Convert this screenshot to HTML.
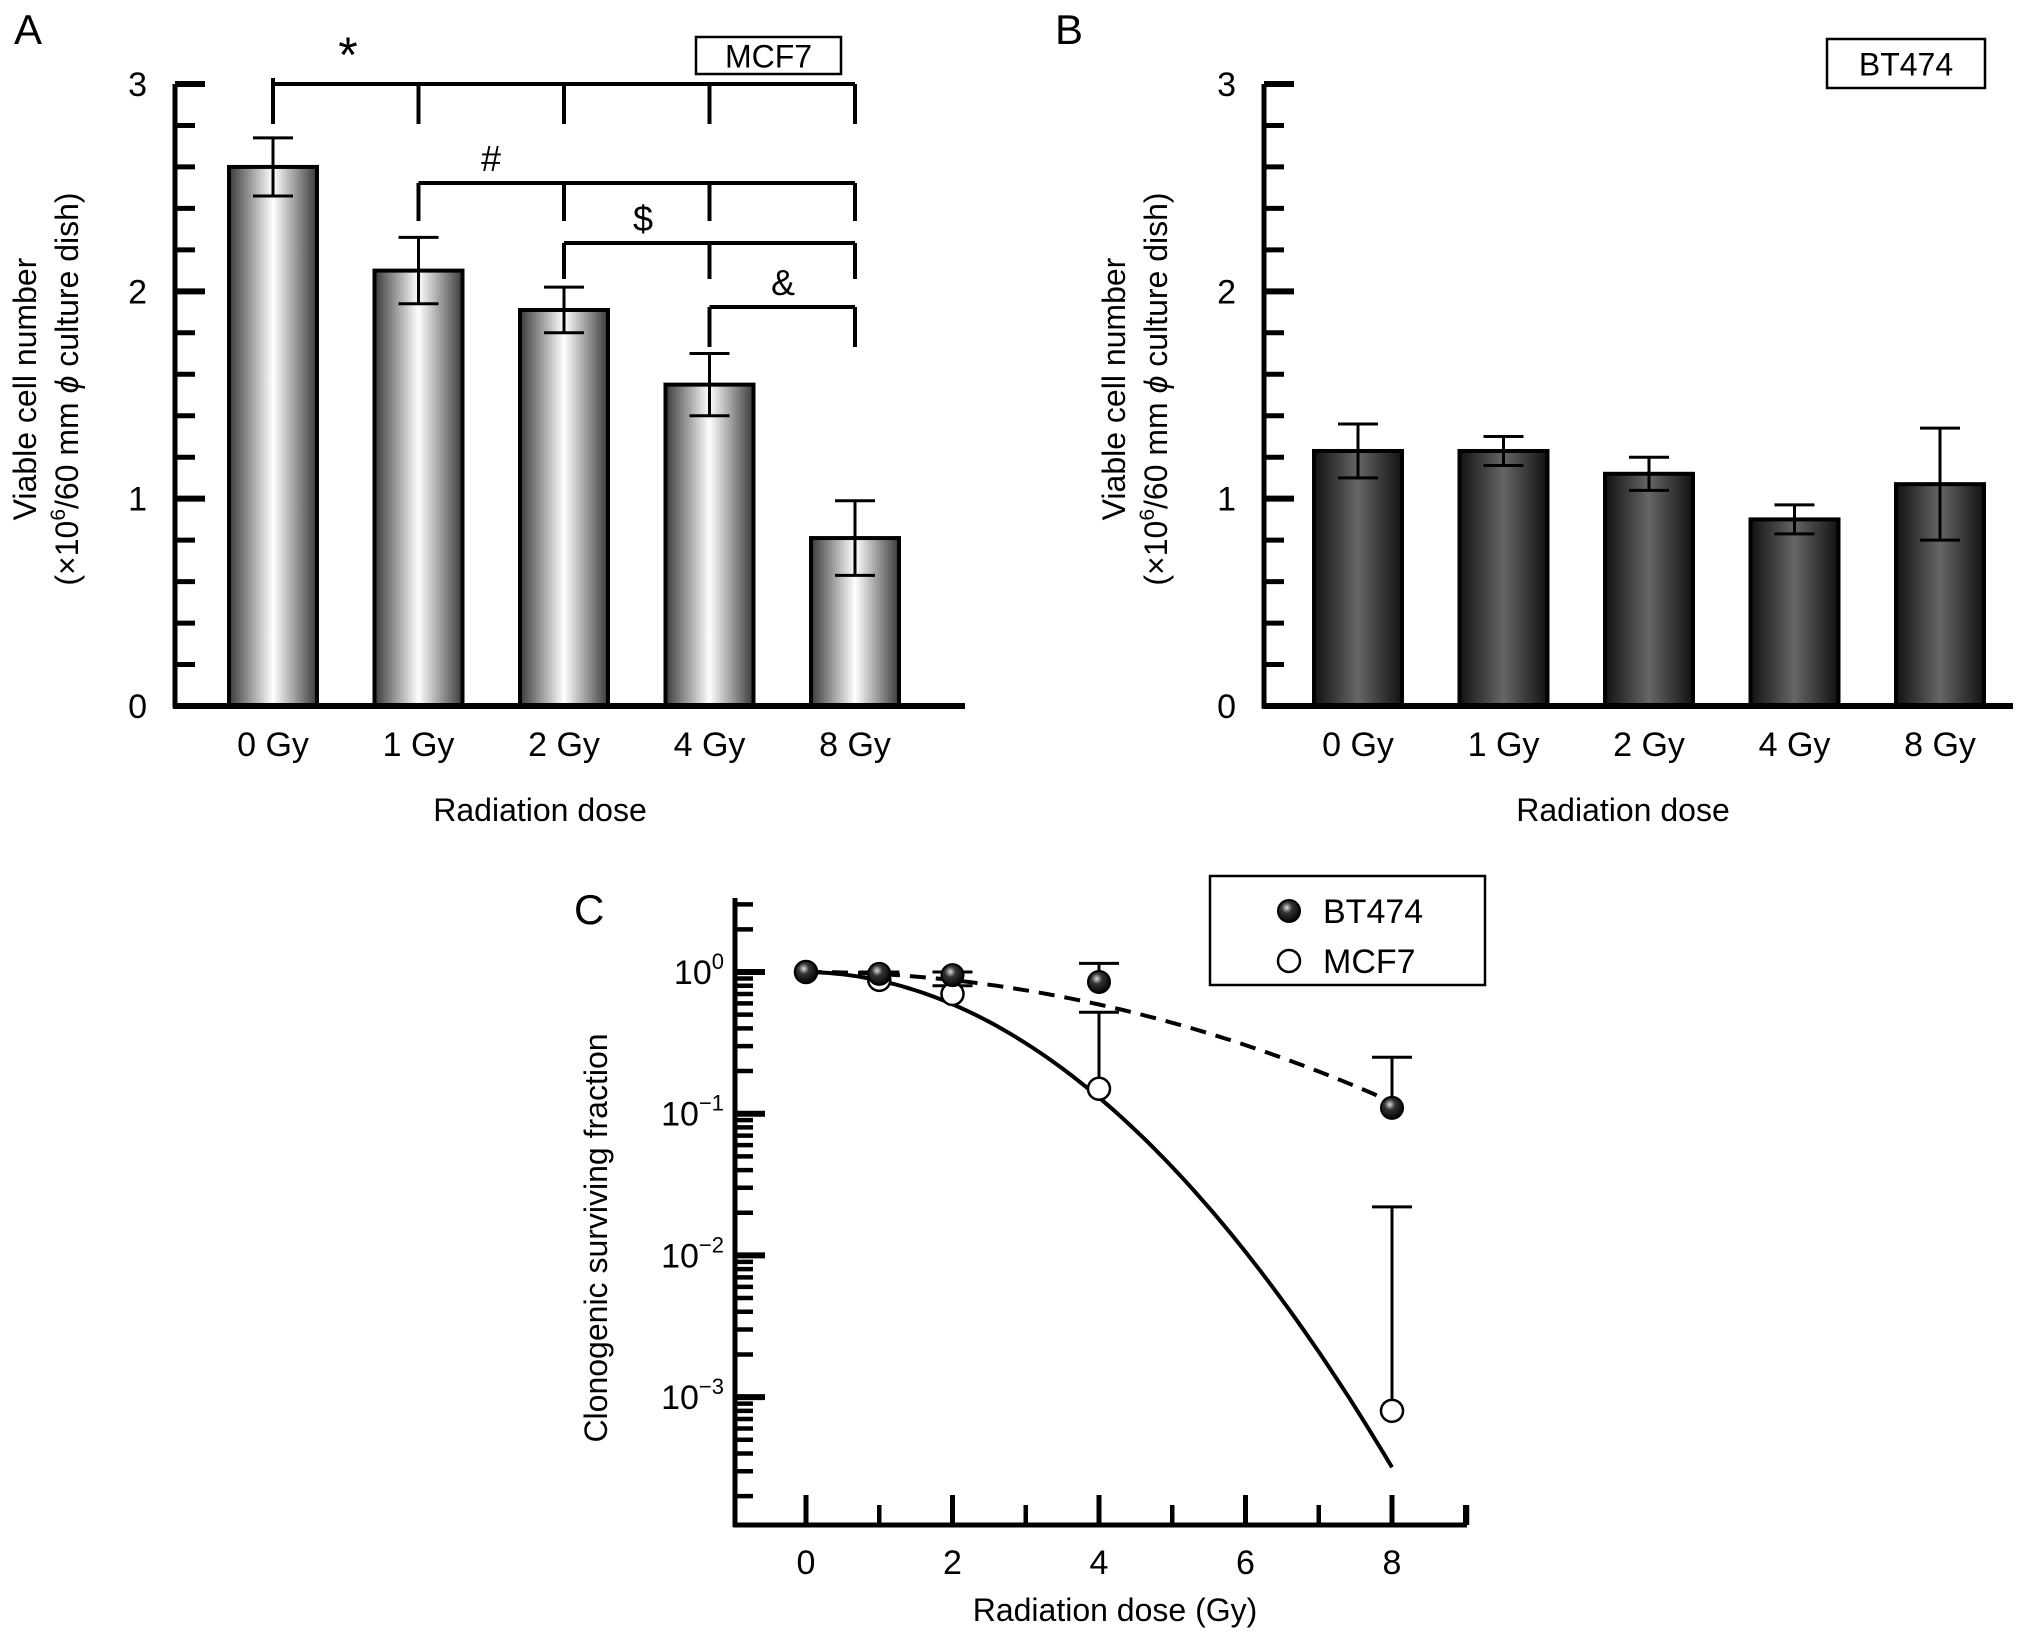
<!DOCTYPE html>
<html><head><meta charset="utf-8"><style>
html,body{margin:0;padding:0;background:#fff;}
svg{display:block;font-family:"Liberation Sans",sans-serif;}
</style></head><body>
<svg id="fig" width="2032" height="1641" viewBox="0 0 2032 1641" xmlns="http://www.w3.org/2000/svg">
<defs>
<linearGradient id="gA" x1="0" x2="1" y1="0" y2="0">
<stop offset="0" stop-color="#3a3a3a"/><stop offset="0.5" stop-color="#ffffff"/><stop offset="1" stop-color="#3a3a3a"/></linearGradient>
<linearGradient id="gB" x1="0" x2="1" y1="0" y2="0">
<stop offset="0" stop-color="#111"/><stop offset="0.5" stop-color="#666"/><stop offset="1" stop-color="#111"/></linearGradient>
<radialGradient id="gBall" cx="0.4" cy="0.35" r="0.7">
<stop offset="0" stop-color="#ddd"/><stop offset="0.35" stop-color="#333"/><stop offset="1" stop-color="#000"/></radialGradient>
</defs>
<g id="root"></g>
</svg>
<script>
// Panel A / B data
const doseCats = ["0 Gy","1 Gy","2 Gy","4 Gy","8 Gy"];
const mcf7Means = [2.6, 2.1, 1.91, 1.55, 0.81];
const mcf7Errs = [0.14, 0.16, 0.11, 0.15, 0.18];
const bt474Means = [1.23, 1.23, 1.12, 0.90, 1.07];
const bt474Errs = [0.13, 0.07, 0.08, 0.07, 0.27];
const yTicksLin = [0, 1, 2, 3];
// Panel C data
const doses = [0, 1, 2, 4, 8];
const bt474SF = [1.0, 0.97, 0.95, 0.85, 0.11];
const bt474Up = [1.0, 1.0, 1.0, 1.15, 0.25];
const mcf7SF = [1.0, 0.88, 0.70, 0.15, 0.0008];
const mcf7Up = [1.0, 1.0, 0.80, 0.52, 0.022];
const xTicksC = [0, 2, 4, 6, 8];
const logTickExps = [0, -1, -2, -3];
const lqMCF7 = [0.014, 0.124];
const lqBT474 = [0.0, 0.033];

const NS = "http://www.w3.org/2000/svg";
const root = document.getElementById("root");
function el(tag, attrs, parent, text){
  const e = document.createElementNS(NS, tag);
  for (const k in attrs) e.setAttribute(k, attrs[k]);
  if (text !== undefined) e.textContent = text;
  (parent || root).appendChild(e);
  return e;
}

function barPanel(opt){
  const g = el("g", {});
  
  
  const x0 = opt.axisX, yBase = 706, yTop = 84, xEnd = opt.xEnd;
  const yS = v => yBase - (yBase - yTop) * v / 3;
  const ax = el("line", {x1:x0, y1:yTop, x2:x0, y2:yBase+2, stroke:"#000","stroke-width":5}, g);
  
  
  for (let i = 0; i <= 15; i++){
    const v = i * 0.2, major = i % 5 === 0;
    el("line", {x1:x0, y1:yS(v), x2:x0 + (major?30:20), y2:yS(v), stroke:"#000","stroke-width":major?6:5}, g);
  }
  yTicksLin.forEach(v => {
    const t = el("text", {x:x0-28, y:yS(v)+12, "text-anchor":"end","font-size":34}, g, String(v));
    
    
  });
  const cx = i => opt.firstX + i * opt.step;
  opt.means.forEach((m, i) => {
    const b = el("rect", {x:cx(i)-44, y:yS(m), width:88, height:yBase-yS(m), fill:opt.fill, stroke:"#000","stroke-width":4}, g);
    
    
    const e = opt.errs[i];
    const eg = el("g", {stroke:"#000","stroke-width":3}, g);
    
    
    el("line", {x1:cx(i), y1:yS(m+e), x2:cx(i), y2:yS(m-e)}, eg);
    el("line", {x1:cx(i)-20, y1:yS(m+e), x2:cx(i)+20, y2:yS(m+e)}, eg);
    el("line", {x1:cx(i)-20, y1:yS(m-e), x2:cx(i)+20, y2:yS(m-e)}, eg);
    const t = el("text", {x:cx(i), y:756, "text-anchor":"middle","font-size":34}, g, doseCats[i]);
    
    
  });
  const xa = el("line", {x1:x0-2, y1:yBase, x2:xEnd, y2:yBase, stroke:"#000","stroke-width":6}, g);
  
  
  const xt = el("text", {x:opt.titleX, y:821, "text-anchor":"middle","font-size":32}, g, "Radiation dose");
  
  
  const yt = el("text", {transform:`translate(${opt.ylx},389) rotate(-90)`, "text-anchor":"middle","font-size":32}, g);
  
  
  el("tspan", {x:0, y:0}, yt, "Viable cell number");
  el("tspan", {x:0, dy:42}, yt, "(×10");
  el("tspan", {"font-size":21, dy:-13}, yt, "6");
  el("tspan", {dy:13}, yt, "/60 mm ");
  el("tspan", {"font-style":"italic"}, yt, "ϕ");
  el("tspan", {}, yt, " culture dish)");
  const lab = el("text", {x:opt.letterX, y:44, "font-size":42}, g, opt.letter);
  
  
  const bx = el("rect", {x:opt.box[0], y:opt.box[1], width:opt.box[2], height:opt.box[3], fill:"#fff", stroke:"#000","stroke-width":2.5}, g);
  
  
  const bt = el("text", {x:opt.box[0]+opt.box[2]/2, y:opt.box[1]+opt.box[3]/2+12, "text-anchor":"middle","font-size":32}, g, opt.boxText);
  
  
  return {g, yS, cx};
}

const A = barPanel({name:"panel-a", axisX:175, xEnd:965, firstX:273, step:145.5, means:mcf7Means, errs:mcf7Errs, fill:"url(#gA)", titleX:540, ylx:36, letterX:14, letter:"A", box:[696,37,145,37], boxText:"MCF7"});
const B = barPanel({name:"panel-b", axisX:1264, xEnd:2013, firstX:1358, step:145.5, means:bt474Means, errs:bt474Errs, fill:"url(#gB)", titleX:1623, ylx:1125, letterX:1055, letter:"B", box:[1827,39,158,49], boxText:"BT474"});

function bracket(i0, yv, drop, sym, symX){
  const g = el("g", {stroke:"#000","stroke-width":4, fill:"none"});
  
  
  const y = yv;
  el("line", {x1:A.cx(i0), y1:y, x2:A.cx(4), y2:y}, g);
  for (let i = i0; i <= 4; i++) el("line", {x1:A.cx(i), y1:y, x2:A.cx(i), y2:y+drop}, g);
  const t = el("text", {x:symX, y:y-12, "text-anchor":"middle","font-size":sym==="*"?50:36, stroke:"none", fill:"#000"}, g, sym);
  
  
}
bracket(0, 84, 40, "*", 348);
el("line", {x1:A.cx(0), y1:78, x2:A.cx(0), y2:84, stroke:"#000","stroke-width":4});
bracket(1, 183, 38, "#", 491);
bracket(2, 243, 36, "$", 643);
bracket(3, 307, 40, "&", 783);

// Panel C
const gC = el("g", {});


const cx0 = 806, cPerGy = 73.25, cY0 = 972, cDec = 141.7, cBase = 1525;
const xC = d => cx0 + d * cPerGy;
const yC = v => cY0 - Math.log10(v) * cDec;
const cAxisX = 735, cTop = 898, cRight = 1467;
const yax = el("line", {x1:cAxisX, y1:cTop, x2:cAxisX, y2:cBase+2, stroke:"#000","stroke-width":5}, gC);


for (let e = 0; e >= -4; e--){
  for (let m = 1; m <= 9; m++){
    const v = m * Math.pow(10, e);
    const y = yC(v);
    if (y < cTop || y > cBase) continue;
    el("line", {x1:cAxisX, y1:y, x2:cAxisX + (m===1?30:18), y2:y, stroke:"#000","stroke-width":m===1?6:4.5}, gC);
  }
}
logTickExps.forEach(e => {
  const t = el("text", {x:724, y:yC(Math.pow(10,e))+12, "text-anchor":"end","font-size":34}, gC);
  
  
  el("tspan", {}, t, "10");
  el("tspan", {"font-size":22, dy:-15}, t, e === 0 ? "0" : "−" + (-e));
});
const xax = el("line", {x1:cAxisX-2, y1:cBase, x2:cRight, y2:cBase, stroke:"#000","stroke-width":5}, gC);


for (let d = 0; d <= 9; d++){
  const major = d % 2 === 0;
  el("line", {x1:xC(d), y1:cBase, x2:xC(d), y2:cBase-(major?30:20), stroke:"#000","stroke-width":major?5:4.5}, gC);
}
el("line", {x1:cRight, y1:cBase, x2:cRight, y2:cBase-20, stroke:"#000","stroke-width":4.5}, gC);
xTicksC.forEach(d => {
  const t = el("text", {x:xC(d), y:1574, "text-anchor":"middle","font-size":34}, gC, String(d));
  
  
});
const cxt = el("text", {x:1115, y:1621, "text-anchor":"middle","font-size":32}, gC, "Radiation dose (Gy)");


const cyt = el("text", {transform:"translate(607,1238) rotate(-90)", "text-anchor":"middle","font-size":32}, gC, "Clonogenic surviving fraction");


const cl = el("text", {x:574, y:924, "font-size":42}, gC, "C");



function lqPath(p){
  let d = "";
  for (let i = 0; i <= 80; i++){
    const D = i * 0.1;
    const v = Math.exp(-p[0]*D - p[1]*D*D);
    d += (i ? "L" : "M") + xC(D).toFixed(1) + "," + yC(v).toFixed(1);
  }
  return d;
}
const fm = el("path", {d:lqPath(lqMCF7), fill:"none", stroke:"#000","stroke-width":4}, gC);


const fb = el("path", {d:lqPath(lqBT474), fill:"none", stroke:"#000","stroke-width":4,"stroke-dasharray":"16,10"}, gC);



function errC(d, v, up){
  if (up <= v * 1.02) return;
  const g = el("g", {stroke:"#000","stroke-width":3}, gC);
  
  
  el("line", {x1:xC(d), y1:yC(v), x2:xC(d), y2:yC(up)}, g);
  el("line", {x1:xC(d)-20, y1:yC(up), x2:xC(d)+20, y2:yC(up)}, g);
}
doses.forEach((d, i) => { errC(d, mcf7SF[i], mcf7Up[i]); errC(d, bt474SF[i], bt474Up[i]); });
doses.forEach((d, i) => {
  const c = el("circle", {cx:xC(d), cy:yC(mcf7SF[i]), r:11, fill:"#fff", stroke:"#000","stroke-width":2.5}, gC);
  
  
});
doses.forEach((d, i) => {
  const c = el("circle", {cx:xC(d), cy:yC(bt474SF[i]), r:11, fill:"url(#gBall)", stroke:"#000","stroke-width":2}, gC);
  
  
});
const lg = el("g", {}, gC);


el("rect", {x:1210, y:876, width:275, height:109, fill:"#fff", stroke:"#000","stroke-width":2.5}, lg);
const le1 = el("g", {}, lg);


el("circle", {cx:1289, cy:911, r:11, fill:"url(#gBall)", stroke:"#000","stroke-width":2}, le1);
el("text", {x:1323, y:923, "font-size":34}, le1, "BT474");
const le2 = el("g", {}, lg);


el("circle", {cx:1289, cy:961, r:11, fill:"#fff", stroke:"#000","stroke-width":2.5}, le2);
el("text", {x:1323, y:973, "font-size":34}, le2, "MCF7");
</script>
</body></html>
